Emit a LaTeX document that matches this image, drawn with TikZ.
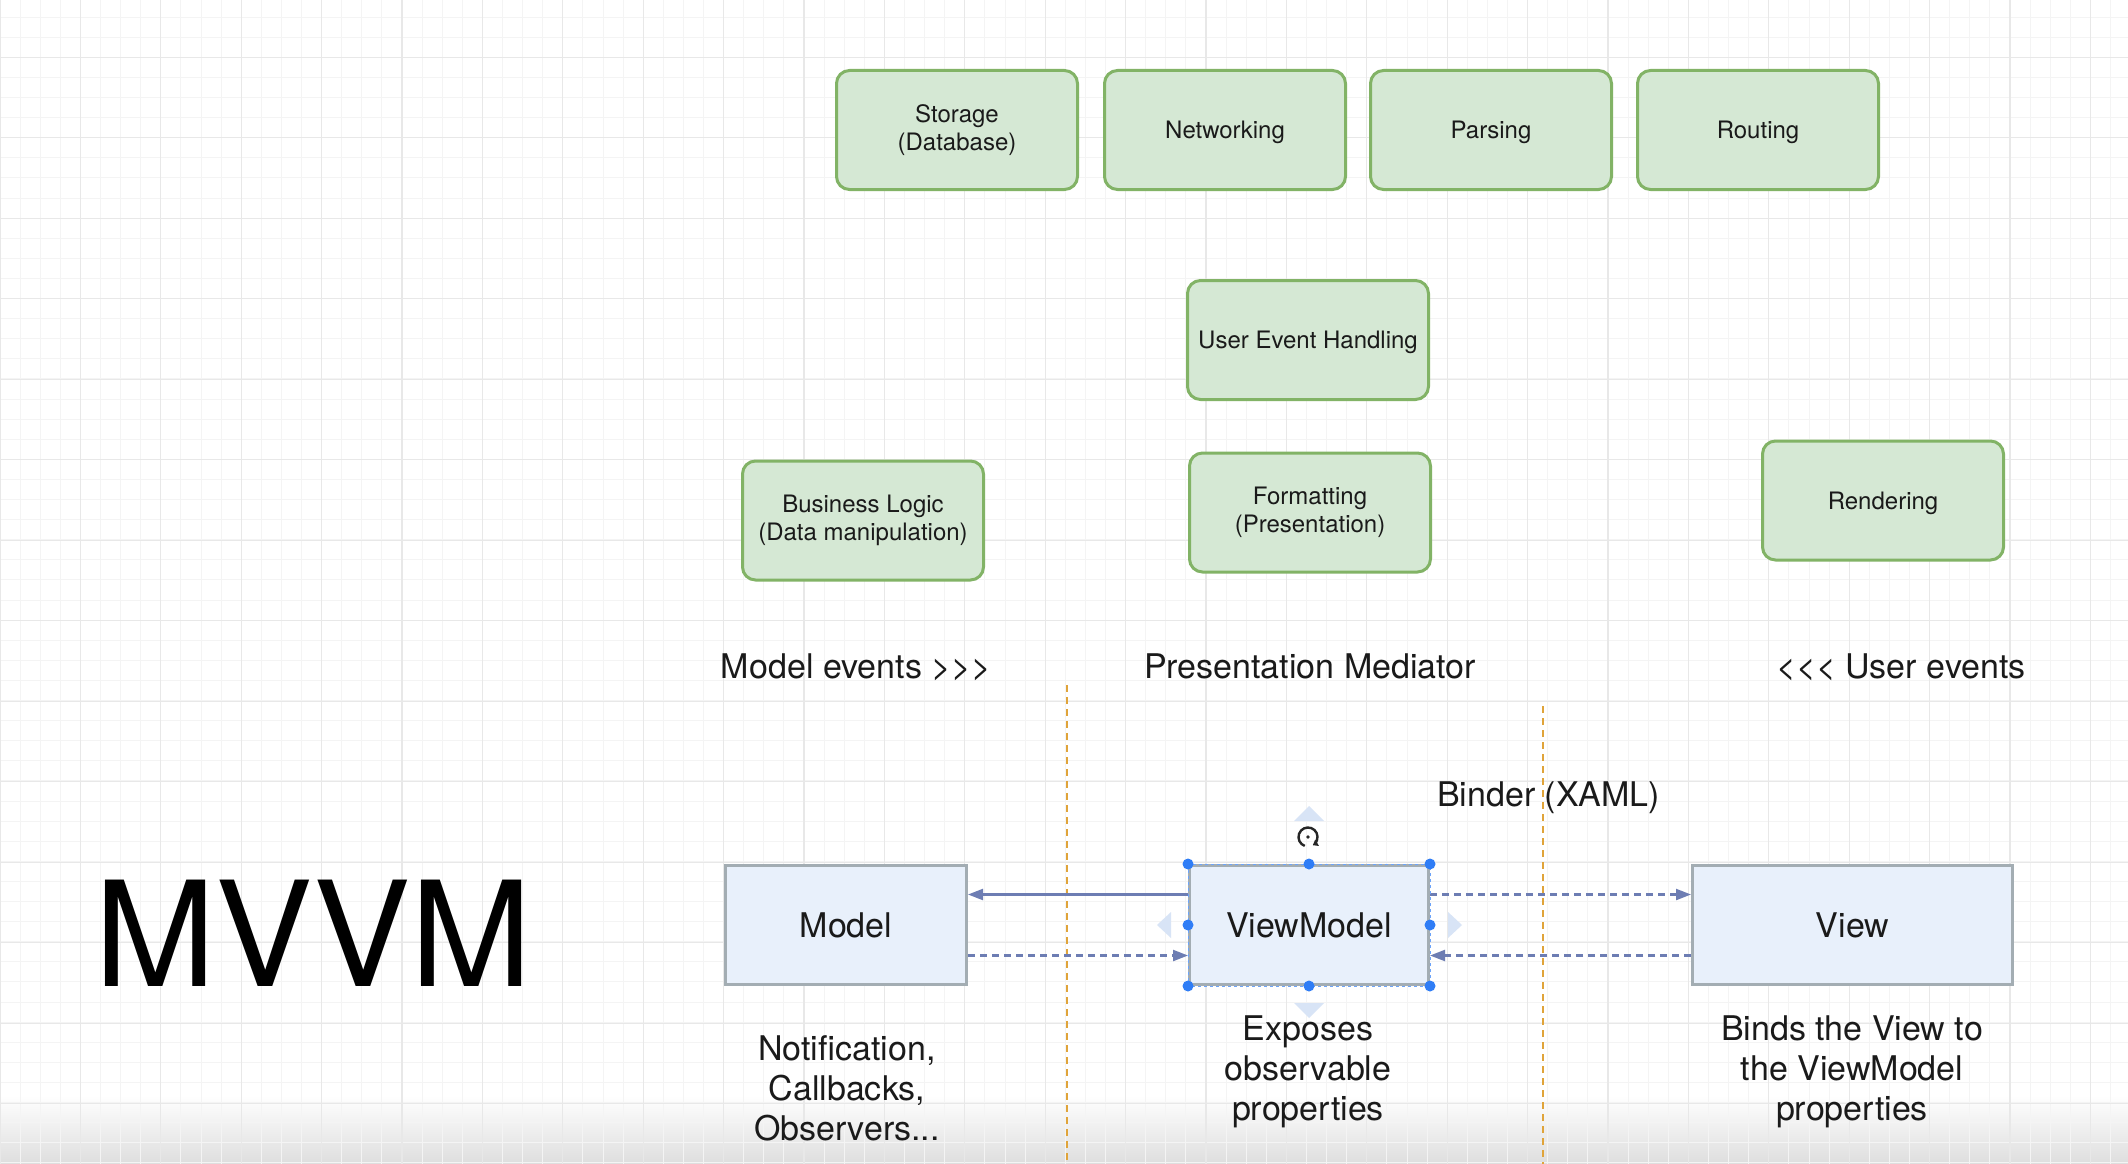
\documentclass[tikz,border=0pt]{standalone}
\usepackage{fontspec}
\setmainfont{TeX Gyre Heros}[Ligatures=TeXOff]
\usetikzlibrary{arrows.meta,calc}
\definecolor{gfill}{HTML}{D5E8D4}
\definecolor{gdraw}{HTML}{82B366}
\definecolor{bfill}{HTML}{E8F0FB}
\definecolor{bdraw}{HTML}{A3ADB3}
\definecolor{arr}{HTML}{6D7DB3}
\definecolor{orng}{HTML}{E0A43A}
\definecolor{handle}{HTML}{2F7DF6}
\definecolor{hint}{HTML}{D8E4F6}
\definecolor{gmin}{HTML}{F4F4F4}
\definecolor{gmaj}{HTML}{E8E8E8}
\definecolor{ink}{HTML}{1A1A1A}
\begin{document}
\begin{tikzpicture}[x=1pt,y=-1pt,
 greenbox/.style={draw=gdraw, fill=gfill, line width=3pt, rounded corners=13pt, minimum width=241pt, minimum height=119pt, inner sep=0pt, align=center, text=ink, font=\fontsize{24}{28.3}\selectfont, execute at begin node={\rule{0pt}{23pt}}},
 bluebox/.style={draw=bdraw, fill=bfill, line width=3.3pt, minimum height=118.7pt, inner sep=0pt, text=ink, font=\fontsize{34}{40}\selectfont},
 lbl/.style={inner sep=0pt, text=ink, font=\fontsize{34}{40}\selectfont, align=center},
 flow/.style={draw=arr, line width=2.2pt, -{Triangle[length=15pt,width=11pt]}},
 flowdash/.style={flow, dash pattern=on 7pt off 5pt},
 divider/.style={draw=orng, line width=2pt, dash pattern=on 7pt off 5pt},
 handledot/.style={circle, fill=handle, inner sep=0pt, minimum size=11pt},
 hintarrow/.style={fill=hint},
]
\useasboundingbox (0,0) rectangle (2128,1164);
\fill[white] (0,0) rectangle (2128,1164);
\shade[top color=white, bottom color=black!13] (0,1095) rectangle (2128,1164);
% grid
\foreach \k in {0,...,106} { \pgfmathsetmacro\xx{\k*20.1} \draw[gmin, line width=1pt] (\xx,0) -- (\xx,1164); }
\foreach \k in {0,...,57} { \pgfmathsetmacro\yy{17.1+\k*20.1} \draw[gmin, line width=1pt] (0,\yy) -- (2128,\yy); }
\foreach \k in {0,...,26} { \pgfmathsetmacro\xx{\k*80.4} \draw[gmaj, line width=1.3pt] (\xx,0) -- (\xx,1164); }
\foreach \k in {0,...,13} { \pgfmathsetmacro\yy{57.3+\k*80.5} \draw[gmaj, line width=1.3pt] (0,\yy) -- (2128,\yy); }

% green responsibility boxes
\node[greenbox] (storage) at (957,130) {Storage\\(Database)};
\node[greenbox] (net) at (1225,130) {Networking};
\node[greenbox] (parse) at (1491,130) {Parsing};
\node[greenbox] (route) at (1758,130) {Routing};
\node[greenbox] (ueh) at (1308,340) {User Event Handling};
\node[greenbox] (biz) at (863,520.5) {Business Logic\\(Data manipulation)};
\node[greenbox] (fmt) at (1310,512.5) {Formatting\\(Presentation)};
\node[greenbox] (rend) at (1883,500.5) {Rendering};

% column headings
\node[lbl, anchor=base] (me) at (856,678) {Model events >>>};
\node[lbl, anchor=base] (pm) at (1310,678) {Presentation Mediator};
\node[lbl, anchor=base] (ue) at (1901,678) {<<< User events};

% dividers
\coordinate (d1t) at (1067,685);
\coordinate (d1b) at (1067,1164);
\coordinate (d2t) at (1543,706);
\coordinate (d2b) at (1543,1164);
\draw[divider] (d1t) -- (d1b);
\draw[divider] (d2t) -- (d2b);

\node[lbl, anchor=base west] (binder) at (1437,806) {Binder (XAML)};

% MVVM title
\node[inner sep=0pt, anchor=base west, font=\fontsize{146}{150}\selectfont, text=black] (mvvm) at (94,986) {MVVM};

% selection hints
\fill[hintarrow] (1309,806) -- (1294,821) -- (1324,821) -- cycle;
\fill[hintarrow] (1157,925) -- (1171,912) -- (1171,938) -- cycle;
\fill[hintarrow] (1462,925) -- (1448,912) -- (1448,938) -- cycle;
\fill[hintarrow] (1309,1018) -- (1294,1003) -- (1324,1003) -- cycle;

% blue boxes
\node[bluebox, minimum width=240.7pt] (model) at (846,925) {Model};
\node[bluebox, minimum width=238.7pt] (vm) at (1309,925) {ViewModel};
\node[bluebox, minimum width=319.7pt] (view) at (1852.5,925) {View};

% connectors
\draw[flow] ($(vm.north west)!0.25!(vm.south west)$) -- ($(model.north east)!0.25!(model.south east)$);
\draw[flowdash] ($(model.north east)!0.75!(model.south east)$) -- ($(vm.north west)!0.75!(vm.south west)$);
\draw[flowdash] ($(vm.north east)!0.25!(vm.south east)$) -- ($(view.north west)!0.25!(view.south west)$);
\draw[flowdash] ($(view.north west)!0.75!(view.south west)$) -- ($(vm.north east)!0.75!(vm.south east)$);

% selection handles
\draw[handle!70, line width=1pt, dash pattern=on 3pt off 3pt] (vm.north west) rectangle (vm.south east);
\foreach \n/\a in {nw/north west, n/north, ne/north east, w/west, e/east, sw/south west, s/south, se/south east}
  \node[handledot] (h\n) at (vm.\a) {};
\draw[black!85, line width=2.4pt, -{Triangle[length=5pt,width=7pt]}] (1308,837) ++(110:9.5) arc[start angle=110, end angle=420, radius=9.5];
\fill[black!85] (1308,837) circle (1.8);

% descriptions
\node[lbl] (notif) at (847,1088.5) {Notification,\\Callbacks,\\Observers...};
\node[lbl] (expo) at (1308,1071.5) {Exposes\\observable\\properties};
\node[lbl] (binds) at (1852,1071.5) {Binds the View to\\the ViewModel\\properties};
\end{tikzpicture}
\end{document}
